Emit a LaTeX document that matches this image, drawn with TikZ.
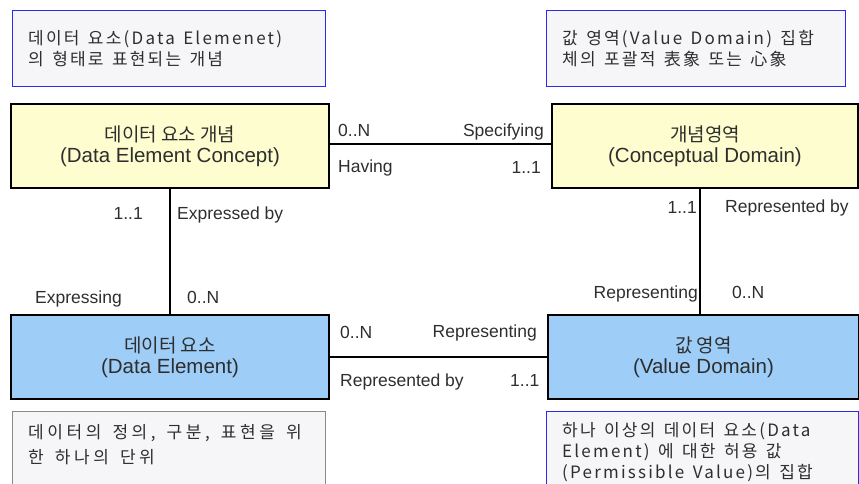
\documentclass[tikz,border=0pt]{standalone}
\usepackage{fontspec}
\setmainfont{Liberation Sans}
\newfontfamily\kr{Noto Sans CJK KR}
\newfontfamily\krnote[LetterSpace=13,WordSpace=1.4]{Noto Sans CJK KR}
\newfontfamily\krnoteB[LetterSpace=21,WordSpace=1.5]{Noto Sans CJK KR}
\definecolor{noteblue}{HTML}{2B2BF0}
\definecolor{notefill}{HTML}{F6F6F8}
\definecolor{notegray}{HTML}{8A8A8A}
\definecolor{yelfill}{HTML}{FDFDCF}
\definecolor{bluefill}{HTML}{9ECDF7}
\definecolor{txt}{HTML}{2E2E2E}
\tikzset{
  notebox/.style={draw=noteblue, line width=1.3pt, fill=notefill, anchor=north west, inner sep=0pt},
  notegraybox/.style={notebox, draw=notegray, line width=1pt},
  notetext/.style={anchor=north west, align=left, inner sep=0pt, text=txt, font=\krnote\fontsize{17}{21}\selectfont},
  entity/.style={draw=black, line width=2pt, anchor=north west, inner sep=0pt, align=center, text=txt, font=\fontsize{20.5}{21}\selectfont},
  yel/.style={entity, fill=yelfill},
  blu/.style={entity, fill=bluefill},
  conn/.style={draw=black, line width=1.6pt},
  lbl/.style={inner sep=0pt, text=txt, font=\fontsize{17.5}{20}\selectfont},
  lblw/.style={lbl, anchor=base west},
  lble/.style={lbl, anchor=base east},
  ktitle/.style={}
}
\newcommand{\kt}[1]{{\kr\fontsize{19}{21}\selectfont #1}}
\begin{document}
\begin{tikzpicture}[x=1pt, y=-1pt]
\useasboundingbox (0,0) rectangle (859,484);
% notes
\node[notebox, minimum width=313pt, minimum height=76pt] (n1) at (12,10) {};
\node[notetext] (t1) at ([xshift=16pt,yshift=-20pt]n1.north west) {데이터 요소(Data Elemenet)\\의 형태로 표현되는 개념};
\node[notebox, minimum width=299pt, minimum height=76pt] (n2) at (546,10) {};
\node[notetext] (t2) at ([xshift=16pt,yshift=-20pt]n2.north west) {값 영역(Value Domain) 집합\\체의 포괄적 表象 또는 心象};
\node[notegraybox, minimum width=313pt, minimum height=90pt] (n3) at (12,411) {};
\node[notetext, font=\krnoteB\fontsize{17}{25}\selectfont] (t3) at ([xshift=16pt,yshift=-13pt]n3.north west) {데이터의 정의, 구분, 표현을 위\\한 하나의 단위};
\node[notebox, minimum width=312pt, minimum height=90pt] (n4) at (546,411) {};
\node[notetext] (t4) at ([xshift=16pt,yshift=-11pt]n4.north west) {하나 이상의 데이터 요소(Data\\Element) 에 대한 허용 값\\(Permissible Value)의 집합};
% entities
\node[yel, minimum width=318pt, minimum height=84pt] (dec) at (10,103) {\kt{데이터 요소 개념}\\(Data Element Concept)};
\node[yel, minimum width=306pt, minimum height=84pt] (cd) at (551,103) {\kt{개념영역}\\(Conceptual Domain)};
\node[blu, minimum width=318pt, minimum height=84pt] (de) at (10,314) {\kt{데이터 요소}\\(Data Element)};
\node[blu, minimum width=311pt, minimum height=84pt] (vd) at (547,314) {\kt{값 영역}\\(Value Domain)};
% connectors
\draw[conn] ([yshift=2pt]dec.east) -- ([yshift=2pt]dec.east -| cd.west);
\draw[conn] (dec.south) -- (dec.south |- de.north);
\draw[conn] (700,187) coordinate (cdb) -- (cdb |- vd.north);
\draw[conn] (de.east) -- (de.east -| vd.west);
% labels top
\node[lblw] (l1) at (338,137) {0..N};
\node[lblw] (l2) at (338,172) {Having};
\node[lble] (l3) at (544,137) {Specifying};
\node[lble] (l4) at (541,173) {1..1};
% labels left vertical
\node[lble] (l5) at (143,219) {1..1};
\node[lblw] (l6) at (177,219) {Expressed by};
\node[lblw] (l7) at (35,303) {Expressing};
\node[lblw] (l8) at (187,303) {0..N};
% labels right vertical
\node[lble] (l9) at (697,213) {1..1};
\node[lblw] (l10) at (725,212) {Represented by};
\node[lble] (l11) at (698,298) {Representing};
\node[lblw] (l12) at (732,298) {0..N};
% labels bottom
\node[lblw] (l13) at (340,338) {0..N};
\node[lble] (l14) at (537,337) {Representing};
\node[lblw] (l15) at (340,386) {Represented by};
\node[lblw] (l16) at (510,386) {1..1};
\end{tikzpicture}
\end{document}
